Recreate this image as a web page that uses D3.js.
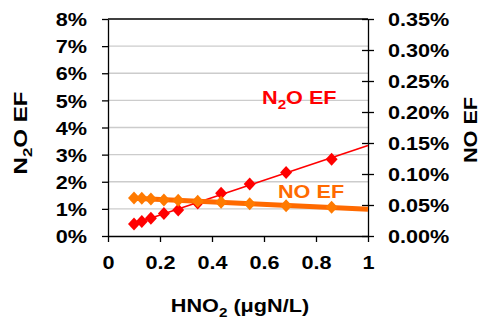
<!DOCTYPE html>
<html>
<head>
<meta charset="utf-8">
<script src="https://cdn.jsdelivr.net/npm/d3@7.9.0/dist/d3.min.js"></script>
<style>
  html, body { margin: 0; padding: 0; background: #fff; }
  svg { display: block; font-family: Arial, "Liberation Sans", sans-serif; font-weight: bold; }
</style>
</head>
<body>
<svg id="chart" width="483" height="327"></svg>
<script>
// --- data ---
const hno2 = [0.1, 0.13, 0.165, 0.215, 0.27, 0.345, 0.435, 0.545, 0.685, 0.86];
const n2oEF = [0.44, 0.53, 0.65, 0.83, 0.96, 1.22, 1.58, 1.92, 2.34, 2.83];     // %
const noEF = [0.0613, 0.0608, 0.0597, 0.0581, 0.0576, 0.056, 0.0543, 0.0521, 0.0489, 0.0463]; // %
const xTicks = [0, 0.2, 0.4, 0.6, 0.8, 1];
const leftTicks = [0, 1, 2, 3, 4, 5, 6, 7, 8];
const rightTicks = [0, 0.05, 0.1, 0.15, 0.2, 0.25, 0.3, 0.35];

const W = 483, H = 327;
const margin = { top: 19, right: 115, bottom: 91, left: 108 };
const SX = 1.17; // labels look horizontally stretched in the original
const red = "#ff0000", orange = "#ff6a00", orangeMark = "#ff7a00";

const svg = d3.select("#chart");
const x = d3.scaleLinear().domain([0, 1]).range([margin.left, W - margin.right]);
const yL = d3.scaleLinear().domain([0, 8]).range([H - margin.bottom, margin.top]);
const yR = d3.scaleLinear().domain([0, 0.35]).range([H - margin.bottom, margin.top]);

function stretch(sel) {
  sel.each(function () {
    const t = d3.select(this);
    const tx = +t.attr("x") || 0, ty = +t.attr("y") || 0;
    t.attr("x", null).attr("y", null)
      .attr("transform", `translate(${tx},${ty}) scale(${SX},1)`);
  });
}

// gridlines
svg.append("g")
  .selectAll("line")
  .data(leftTicks.slice(1, -1))
  .join("line")
  .attr("x1", x(0)).attr("x2", x(1))
  .attr("y1", d => yL(d)).attr("y2", d => yL(d))
  .attr("stroke", "#cccccc").attr("stroke-width", 1.3);

// top frame
svg.append("line")
  .attr("x1", x(0)).attr("x2", x(1))
  .attr("y1", yL(8)).attr("y2", yL(8))
  .attr("stroke", "#000").attr("stroke-width", 1.3);

// axes
const axisStyle = g => {
  g.selectAll(".domain").attr("stroke", "#000").attr("stroke-width", 1.3);
  g.selectAll(".tick line").attr("stroke", "#000").attr("stroke-width", 1.3);
  g.selectAll("text").attr("fill", "#000").style("font-size", "18.5px")
    .style("font-family", "Arial, 'Liberation Sans', sans-serif").style("font-weight", "bold");
};

const gx = svg.append("g")
  .attr("transform", `translate(0,${yL(0)})`)
  .call(d3.axisBottom(x).tickValues(xTicks).tickSize(6).tickSizeOuter(0)
    .tickFormat(d3.format("")));
axisStyle(gx);
gx.selectAll("text").attr("y", 33).attr("dy", null);
stretch(gx.selectAll("text"));

const gl = svg.append("g")
  .attr("transform", `translate(${x(0)},0)`)
  .call(d3.axisLeft(yL).tickValues(leftTicks).tickSize(6).tickSizeOuter(0)
    .tickFormat(d => d + "%"));
axisStyle(gl);
gl.selectAll("text").attr("x", -21).attr("dy", "0.36em");
stretch(gl.selectAll("text"));

const gr = svg.append("g")
  .attr("transform", `translate(${x(1)},0)`)
  .call(d3.axisRight(yR).tickValues(rightTicks).tickSize(6).tickSizeOuter(0)
    .tickFormat(d => d.toFixed(2) + "%"));
axisStyle(gr);
gr.selectAll(".tick line").attr("x1", -6).attr("x2", 6);
gr.selectAll("text").attr("x", 20).attr("dy", "0.36em");
stretch(gr.selectAll("text"));

// linear trendlines (least squares)
function fit(xs, ys) {
  const mx = d3.mean(xs), my = d3.mean(ys);
  const b = d3.sum(xs, (v, i) => (v - mx) * (ys[i] - my)) / d3.sum(xs, v => (v - mx) ** 2);
  return v => my + b * (v - mx);
}
const diamond = (w, h) => `M0,${-h}L${w},0L0,${h}L${-w},0Z`;

// N2O series
const fN = fit(hno2, n2oEF);
svg.append("line")
  .attr("x1", x(hno2[0])).attr("y1", yL(fN(hno2[0])))
  .attr("x2", x(1)).attr("y2", yL(fN(1)))
  .attr("stroke", red).attr("stroke-width", 1.6);
svg.append("g").selectAll("path")
  .data(hno2)
  .join("path")
  .attr("transform", (d, i) => `translate(${x(d)},${yL(n2oEF[i])})`)
  .attr("d", diamond(6, 6.5))
  .attr("fill", red);

// NO series
const fNO = fit(hno2, noEF);
svg.append("line")
  .attr("x1", x(hno2[0])).attr("y1", yR(fNO(hno2[0])))
  .attr("x2", x(1)).attr("y2", yR(fNO(1)))
  .attr("stroke", orange).attr("stroke-width", 5);
svg.append("g").selectAll("path")
  .data(hno2)
  .join("path")
  .attr("transform", (d, i) => `translate(${x(d)},${yR(noEF[i])})`)
  .attr("d", diamond(6, 6.5))
  .attr("fill", orangeMark);

// series labels
const n2oLab = svg.append("text")
  .attr("transform", `translate(262,104) scale(${SX},1)`)
  .attr("fill", red).style("font-size", "18.5px");
n2oLab.append("tspan").text("N");
n2oLab.append("tspan").text("2").style("font-size", "13px").attr("dy", 5);
n2oLab.append("tspan").text("O EF").attr("dy", -5);

svg.append("text")
  .attr("transform", `translate(278,198) scale(${SX},1)`)
  .attr("fill", orange).style("font-size", "18.5px")
  .text("NO EF");

// axis titles (rotated, stretched along their length)
const lt = svg.append("text")
  .attr("transform", `translate(27,133) rotate(-90)`)
  .attr("text-anchor", "middle").style("font-size", "18.5px")
  .attr("textLength", 83).attr("lengthAdjust", "spacingAndGlyphs");
lt.append("tspan").text("N");
lt.append("tspan").text("2").style("font-size", "13px").attr("dy", 5);
lt.append("tspan").text("O EF").attr("dy", -5);

svg.append("text")
  .attr("transform", `translate(477,130) rotate(-90)`)
  .attr("text-anchor", "middle").style("font-size", "18.5px")
  .attr("textLength", 66).attr("lengthAdjust", "spacingAndGlyphs")
  .text("NO EF");

const xt = svg.append("text")
  .attr("transform", `translate(240,312) scale(${SX},1)`)
  .attr("text-anchor", "middle").style("font-size", "18.5px");
xt.append("tspan").text("HNO");
xt.append("tspan").text("2").style("font-size", "13px").attr("dy", 5);
xt.append("tspan").text(" (μgN/L)").attr("dy", -5);
</script>
</body>
</html>
